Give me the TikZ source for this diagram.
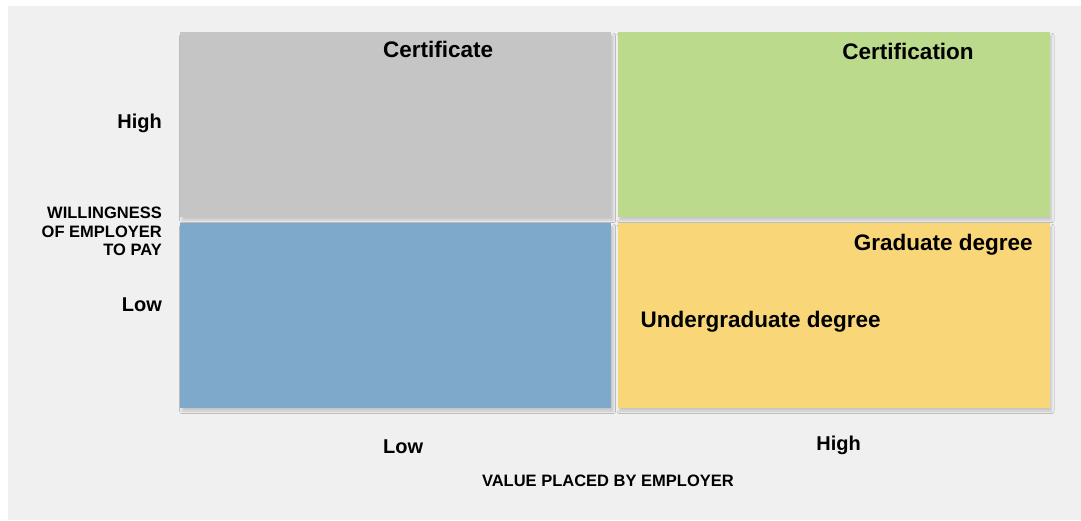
\documentclass[tikz,border=0pt]{standalone}
\usepackage{fontspec}
\setmainfont{Liberation Sans}
\usetikzlibrary{positioning,shadows.blur}
\definecolor{panelgray}{RGB}{240,240,240}
\definecolor{certgray}{RGB}{197,197,197}
\definecolor{certgreen}{RGB}{188,218,140}
\definecolor{lowblue}{RGB}{127,169,202}
\definecolor{degyellow}{RGB}{249,214,120}
\newcommand{\bigtxt}{\fontsize{22.5}{26}\selectfont\bfseries}
\newcommand{\midtxt}{\fontsize{20}{24}\selectfont\bfseries}
\newcommand{\captxt}{\fontsize{16.5}{18.5}\selectfont\bfseries}

\begin{document}
\begin{tikzpicture}[x=1pt,y=-1pt,
  quad/.style={rectangle, minimum width=431pt, minimum height=184.5pt, inner sep=0pt, draw=none,
    blur shadow={shadow xshift=2pt, shadow yshift=-3.5pt, shadow blur radius=2.5pt, shadow opacity=18}},
  lbl/.style={inner sep=0pt, text=black}]
    % fond
    \fill[white] (0,0) rectangle (1081,520);
    \fill[panelgray] (8,6) rectangle (1081,520);

    % les quatre cases
    \node [quad, fill=certgray, anchor=north west](CERT) at (180,32) {};
    \node [quad, fill=certgreen, minimum width=432pt](CERTN) [right=6pt of CERT] {};
    \node [quad, fill=lowblue](LOWLOW) [below=6pt of CERT] {};
    \node [quad, fill=degyellow, minimum width=432pt](DEG) [below=6pt of CERTN] {};

    \node [lbl, anchor=base, font=\bigtxt] at ([xshift=42.5pt, yshift=-25pt]CERT.north) {Certificate};
    \node [lbl, anchor=base, font=\bigtxt] at ([xshift=74.5pt, yshift=-27pt]CERTN.north) {Certification};
    \node [lbl, anchor=base east, font=\bigtxt] at ([xshift=-17pt, yshift=-28pt]DEG.north east) {Graduate degree};
    \node [lbl, anchor=base west, font=\bigtxt] at ([xshift=23pt, yshift=-105pt]DEG.north west) {Undergraduate degree};

    % axes
    \node [lbl, anchor=base east, font=\midtxt] at ([xshift=-18pt, yshift=-96pt]CERT.north west) {High};
    \node [lbl, anchor=base east, font=\midtxt] at ([xshift=-18pt, yshift=-89pt]LOWLOW.north west) {Low};
    \node [lbl, anchor=north east, align=right, font=\captxt] at ([xshift=-18pt, yshift=10pt]CERT.south west)
      {WILLINGNESS\\OF EMPLOYER\\TO PAY};
    \node [lbl, anchor=base, font=\midtxt] at ([xshift=7.5pt, yshift=-45.5pt]LOWLOW.south) {Low};
    \node [lbl, anchor=base, font=\midtxt] at ([xshift=5pt, yshift=-42.5pt]DEG.south) {High};
    \node [lbl, anchor=base, font=\captxt] at ([xshift=-3.5pt, yshift=-78.5pt]LOWLOW.south east) {VALUE PLACED BY EMPLOYER};

    \useasboundingbox (0,0) rectangle (1081,520);
\end{tikzpicture}
\end{document}
